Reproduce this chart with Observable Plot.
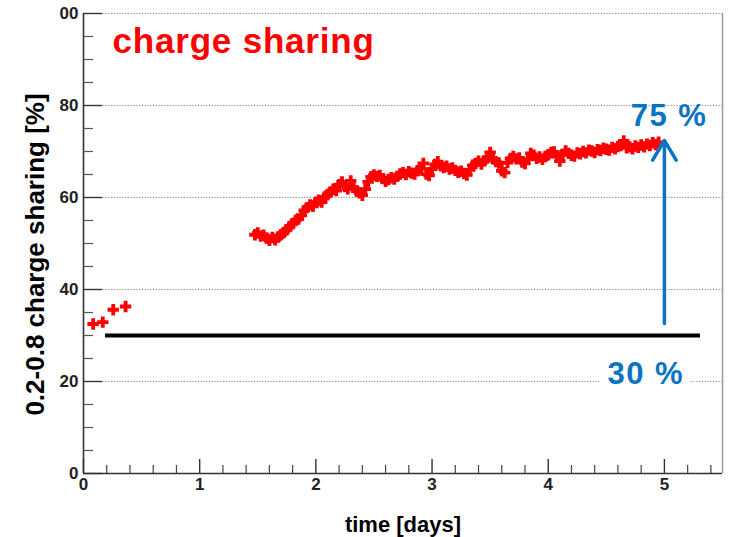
<!DOCTYPE html>
<html>
<head>
<meta charset="utf-8">
<script src="https://cdn.jsdelivr.net/npm/d3@7"></script>
<script src="https://cdn.jsdelivr.net/npm/@observablehq/plot@0.6"></script>
<style>
  body { margin: 0; background: #fff; }
  #chart svg { display: block; }
</style>
</head>
<body>
<div id="chart"></div>
<script>
// First short run (before the break)
const earlyDays  = [0.083, 0.166, 0.256, 0.362];
const earlyShare = [32.5, 32.9, 35.6, 36.3];

// Long run after the restart
const runDays = [
  1.475, 1.5, 1.525, 1.55, 1.575, 1.6, 1.625, 1.65,
  1.675, 1.7, 1.725, 1.75, 1.775, 1.8, 1.825, 1.85,
  1.875, 1.9, 1.925, 1.95, 1.975, 2.0, 2.025, 2.05,
  2.075, 2.1, 2.125, 2.15, 2.175, 2.2, 2.225, 2.25,
  2.275, 2.3, 2.325, 2.35, 2.375, 2.4, 2.425, 2.45,
  2.475, 2.5, 2.525, 2.55, 2.575, 2.6, 2.625, 2.65,
  2.675, 2.7, 2.725, 2.75, 2.775, 2.8, 2.825, 2.85,
  2.875, 2.9, 2.925, 2.95, 2.975, 3.0, 3.025, 3.05,
  3.075, 3.1, 3.125, 3.15, 3.175, 3.2, 3.225, 3.25,
  3.275, 3.3, 3.325, 3.35, 3.375, 3.4, 3.425, 3.45,
  3.475, 3.5, 3.525, 3.55, 3.575, 3.6, 3.625, 3.65,
  3.675, 3.7, 3.725, 3.75, 3.775, 3.8, 3.825, 3.85,
  3.875, 3.9, 3.925, 3.95, 3.975, 4.0, 4.025, 4.05,
  4.075, 4.1, 4.125, 4.15, 4.175, 4.2, 4.225, 4.25,
  4.275, 4.3, 4.325, 4.35, 4.375, 4.4, 4.425, 4.45,
  4.475, 4.5, 4.525, 4.55, 4.575, 4.6, 4.625, 4.65,
  4.675, 4.7, 4.725, 4.75, 4.775, 4.8, 4.825, 4.85,
  4.875, 4.9, 4.925, 4.95
];
const runShare = [
  51.9, 52.3, 51.6, 51.8, 51.2, 50.7, 51.3, 50.8,
  51.4, 51.9, 52.4, 53.0, 53.7, 54.3, 55.0, 55.3,
  56.1, 57.2, 57.8, 58.4, 58.1, 59.0, 59.4, 59.0,
  60.1, 60.6, 61.2, 61.8, 61.5, 62.8, 63.4, 62.4,
  61.9, 63.6, 62.2, 61.4, 61.0, 60.5, 61.8, 63.4,
  64.5, 64.9, 64.6, 64.8, 64.1, 63.5, 63.9, 64.3,
  64.0, 64.6, 65.1, 65.4, 65.0, 65.6, 65.3, 65.1,
  65.8, 66.3, 67.4, 65.1, 64.8, 66.2, 67.2, 67.8,
  66.9, 66.5, 66.8, 66.2, 66.4, 65.9, 65.5, 65.7,
  65.2, 64.9, 66.0, 67.0, 67.4, 67.9, 67.3, 68.0,
  68.6, 69.8, 68.4, 67.8, 67.5, 65.8, 65.4, 67.6,
  68.5, 68.9, 68.4, 68.6, 67.7, 67.4, 68.3, 69.6,
  69.2, 68.5, 68.8, 68.3, 68.9, 69.3, 69.8, 69.9,
  68.9, 67.9, 69.4, 70.1, 69.6, 69.2, 69.0, 69.7,
  69.5, 70.0, 69.7, 70.3, 70.1, 69.8, 70.4, 70.2,
  70.7, 70.5, 70.3, 70.9, 70.6, 71.1, 71.3, 72.3,
  70.8, 71.0, 70.6, 71.2, 70.9, 71.4, 71.0, 71.6,
  71.3, 71.9, 71.5, 72.0
];

// Reference level and target level
const startLevel = 30;
const endLevel = 75;
const levelFrom = 0.19;
const levelTo = 5.31;
const arrowDay = 5;

// Axes
const xTicks = [0, 1, 2, 3, 4, 5];
const xMinorTicks = [0.2, 0.4, 0.6, 0.8, 1.2, 1.4, 1.6, 1.8, 2.2, 2.4, 2.6, 2.8,
                     3.2, 3.4, 3.6, 3.8, 4.2, 4.4, 4.6, 4.8, 5.2, 5.4];
const yTicks = [0, 20, 40, 60, 80, 100];
const yTickLabels = ["0", "20", "40", "60", "80", "00"];
const yMinorTicks = [5, 10, 15, 25, 30, 35, 45, 50, 55, 65, 70, 75, 85, 90, 95];
const gridLevels = [20, 40, 60, 80, 100];

const title = "charge sharing";
const xLabel = "time [days]";
const yLabel = "0.2-0.8 charge sharing [%]";
const endText = `${endLevel} %`;
const startText = `${startLevel} %`;

const points = [
  ...earlyDays.map((d, i) => ({day: d, share: earlyShare[i]})),
  ...runDays.map((d, i) => ({day: d, share: runShare[i]}))
];

const font = "'Liberation Sans', Arial, Helvetica, sans-serif";
const blue = "#0a74c4";

const chart = Plot.plot({
  width: 732,
  height: 537,
  marginLeft: 83,
  marginRight: 10,
  marginTop: 13,
  marginBottom: 64,
  style: {fontFamily: font, background: "#fff", overflow: "visible"},
  x: {domain: [0, 5.5]},
  y: {domain: [0, 100]},
  marks: [
    // dotted horizontal grid
    Plot.ruleY(gridLevels, {stroke: "#8a8a8a", strokeWidth: 1, strokeDasharray: "1.2,1.6"}),
    // frame
    Plot.ruleX([5.5], {stroke: "#9a9a9a", strokeWidth: 1.5}),
    Plot.ruleX([0], {stroke: "#333", strokeWidth: 1.6}),
    Plot.ruleY([0], {stroke: "#333", strokeWidth: 1.6}),
    // inward ticks
    Plot.axisX(xTicks, {anchor: "bottom", tickSize: -14, stroke: "#333", strokeWidth: 1.4, tickFormat: () => "", label: null}),
    Plot.axisX(xMinorTicks, {anchor: "bottom", tickSize: -8, stroke: "#444", strokeWidth: 1.2, tickFormat: () => "", label: null}),
    Plot.axisY(yTicks, {anchor: "left", tickSize: -19, stroke: "#333", strokeWidth: 1.4, tickFormat: () => "", label: null}),
    Plot.axisY(yMinorTicks, {anchor: "left", tickSize: -10, stroke: "#555", strokeWidth: 1.2, tickFormat: () => "", label: null}),
    // tick labels
    Plot.axisX(xTicks, {anchor: "bottom", tickSize: 0, tickPadding: 4, fontSize: 17, fontWeight: "bold", fill: "#222",
      tickFormat: (d) => String(d), label: null}),
    Plot.axisY(yTicks, {anchor: "left", tickSize: 0, tickPadding: 5, fontSize: 17, fontWeight: "bold", fill: "#222",
      tickFormat: (d) => yTickLabels[yTicks.indexOf(d)], label: null}),
    // axis titles
    Plot.text([xLabel], {frameAnchor: "bottom", dy: 51, fontSize: 22, fontWeight: "bold", fill: "#000", lineAnchor: "middle"}),
    Plot.text([yLabel], {frameAnchor: "left", textAnchor: "middle", dx: -48, dy: 11, rotate: -90, fontSize: 26,
      fontWeight: "bold", fill: "#000", lineAnchor: "middle"}),
    // title
    Plot.text([title], {x: 0.25, y: 91.5, textAnchor: "start", lineAnchor: "bottom", fontSize: 35, fontWeight: "bold",
      fill: "#ff0000"}),
    // 30 % level line
    Plot.ruleY([startLevel], {x1: levelFrom, x2: levelTo, stroke: "#000", strokeWidth: 4}),
    // data
    Plot.dot(points, {x: "day", y: "share", symbol: "cross", r: 4.8, fill: "#ff0000", stroke: "none"}),
    // arrow from 30 % to 75 %
    Plot.arrow([0], {x1: arrowDay, y1: startLevel, x2: arrowDay, y2: endLevel, stroke: blue, strokeWidth: 3.5,
      headLength: 9.8, headAngle: 62, insetStart: 12, insetEnd: 12}),
    // level labels
    Plot.text([endText], {x: 5.04, y: 77.6, fontSize: 31, fontWeight: "bold", fill: blue, lineAnchor: "middle"}),
    Plot.text([startText], {x: 4.84, y: 21.7, fontSize: 31, fontWeight: "bold", fill: blue, lineAnchor: "middle",
      stroke: "#fff", strokeWidth: 18, paintOrder: "stroke"})
  ]
});

// slightly wider lettering for the title and the level labels
const spacing = new Map([[title, "0.8px"], [endText, "1.5px"], [startText, "1.5px"]]);
d3.select(chart).selectAll("text").each(function () {
  const s = spacing.get(this.textContent);
  if (s) this.setAttribute("letter-spacing", s);
});

document.getElementById("chart").append(chart);
</script>
</body>
</html>
